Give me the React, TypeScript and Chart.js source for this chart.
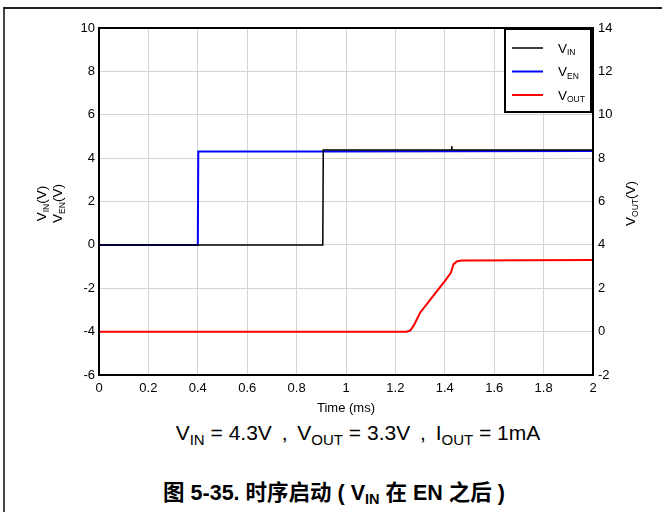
import React, { useEffect, useRef } from "react";
import { Chart, registerables } from "chart.js";

Chart.register(...registerables);

// ---- data (time in ms, voltages in V) ----
const timeVIN = [0, 0.906, 0.908, 1.426, 1.428, 1.43, 2];
const valVIN = [0, 0, 4.37, 4.37, 4.55, 4.37, 4.37];
const timeVEN = [0, 0.4, 0.402, 0.9, 2];
const valVEN = [0, 0, 4.31, 4.31, 4.33];
const timeVOUT = [0, 1.245, 1.26, 1.275, 1.3, 1.35, 1.4, 1.425, 1.435, 1.45, 1.47, 2];
const valVOUT = [0, 0, 0.05, 0.3, 0.87, 1.6, 2.33, 2.72, 3.1, 3.25, 3.28, 3.3];

const xTicks = [0, 0.2, 0.4, 0.6, 0.8, 1, 1.2, 1.4, 1.6, 1.8, 2];
const xTickLabels = ["0", "0.2", "0.4", "0.6", "0.8", "1", "1.2", "1.4", "1.6", "1.8", "2"];
const leftTicks = [-6, -4, -2, 0, 2, 4, 6, 8, 10];
const rightTicks = [-2, 0, 2, 4, 6, 8, 10, 12, 14];

const FONT = '"Liberation Sans", Arial, sans-serif';

type Seg = [string, boolean];

function drawSegs(
  ctx: CanvasRenderingContext2D,
  segs: Seg[],
  x: number,
  y: number,
  size: number,
  subSize: number,
  align: "left" | "center"
) {
  let total = 0;
  const widths: number[] = [];
  for (const [t, sub] of segs) {
    ctx.font = `${sub ? subSize : size}px ${FONT}`;
    const w = ctx.measureText(t).width;
    widths.push(w);
    total += w;
  }
  let cx = align === "center" ? x - total / 2 : x;
  ctx.textAlign = "left";
  ctx.textBaseline = "alphabetic";
  segs.forEach(([t, sub], i) => {
    ctx.font = `${sub ? subSize : size}px ${FONT}`;
    ctx.fillText(t, cx, sub ? y + size * 0.22 : y);
    cx += widths[i];
  });
}

const overlayPlugin = {
  id: "overlay",
  afterDraw(chart: any) {
    const ctx: CanvasRenderingContext2D = chart.ctx;
    const a = chart.chartArea;
    ctx.save();
    // plot frame
    ctx.strokeStyle = "#000";
    ctx.lineWidth = 2;
    ctx.strokeRect(a.left, a.top, a.right - a.left, a.bottom - a.top);

    // legend box
    const lw = 86;
    const lh = 83;
    const lx = a.right - 2 - lw;
    const ly = a.top + 1;
    ctx.fillStyle = "#fff";
    ctx.fillRect(lx, ly, lw, lh);
    ctx.strokeStyle = "#000";
    ctx.lineWidth = 2;
    ctx.strokeRect(lx, ly, lw, lh);
    const items: { color: string; width: number; segs: Seg[] }[] = [
      { color: "#000000", width: 1.5, segs: [["V", false], ["IN", true]] },
      { color: "#0000ff", width: 2, segs: [["V", false], ["EN", true]] },
      { color: "#ff0000", width: 2, segs: [["V", false], ["OUT", true]] },
    ];
    items.forEach((it, i) => {
      const yy = ly + 19 + i * 23.5;
      ctx.strokeStyle = it.color;
      ctx.lineWidth = it.width;
      ctx.beginPath();
      ctx.moveTo(lx + 7, yy);
      ctx.lineTo(lx + 38, yy);
      ctx.stroke();
      ctx.fillStyle = "#000";
      drawSegs(ctx, it.segs, lx + 53, yy + 4.5, 13.5, 8.5, "left");
    });

    // axis titles
    ctx.fillStyle = "#000";
    const midY = (a.top + a.bottom) / 2;
    const rot = (cx: number, segs: Seg[]) => {
      ctx.save();
      ctx.translate(cx, midY + 2);
      ctx.rotate(-Math.PI / 2);
      drawSegs(ctx, segs, 0, 0, 13.5, 8.5, "center");
      ctx.restore();
    };
    rot(46, [["V", false], ["IN", true], ["(V)", false]]);
    rot(62, [["V", false], ["EN", true], ["(V)", false]]);
    rot(635, [["V", false], ["OUT", true], ["(V)", false]]);
    drawSegs(ctx, [["Time (ms)", false]], (a.left + a.right) / 2, 412, 13, 8, "center");
    ctx.restore();
  },
};

export default function App() {
  const ref = useRef<HTMLCanvasElement | null>(null);
  useEffect(() => {
    if (!ref.current) return;
    const mk = (xs: number[], ys: number[]) => xs.map((x, i) => ({ x, y: ys[i] }));
    const chart = new Chart(ref.current, {
      type: "line",
      data: {
        datasets: [
          {
            label: "VIN",
            data: mk(timeVIN, valVIN),
            borderColor: "#000000",
            borderWidth: 1.5,
            pointRadius: 0,
            yAxisID: "y",
          },
          {
            label: "VEN",
            data: mk(timeVEN, valVEN),
            borderColor: "#0000ff",
            borderWidth: 2,
            pointRadius: 0,
            yAxisID: "y",
          },
          {
            label: "VOUT",
            data: mk(timeVOUT, valVOUT),
            borderColor: "#ff0000",
            borderWidth: 2,
            pointRadius: 0,
            yAxisID: "y2",
          },
        ],
      },
      options: {
        animation: false,
        responsive: false,
        layout: { padding: { top: 28, left: 0, right: 0, bottom: 0 } },
        plugins: { legend: { display: false }, tooltip: { enabled: false } },
        scales: {
          x: {
            type: "linear",
            min: 0,
            max: 2,
            afterFit: (s: any) => {
              s.height = 45;
            },
            afterBuildTicks: (s: any) => {
              s.ticks = xTicks.map((v) => ({ value: v }));
            },
            ticks: {
              color: "#000",
              font: { family: FONT, size: 13 },
              padding: 6,
              maxRotation: 0,
              autoSkip: false,
              callback: (_v: any, i: number) => xTickLabels[i],
            },
            grid: { color: "#d4d4d4", lineWidth: 1, drawTicks: false },
            border: { display: false },
          },
          y: {
            type: "linear",
            position: "left",
            min: -6,
            max: 10,
            afterFit: (s: any) => {
              s.width = 99;
            },
            afterBuildTicks: (s: any) => {
              s.ticks = leftTicks.map((v) => ({ value: v }));
            },
            ticks: { color: "#000", font: { family: FONT, size: 13 }, padding: 4 },
            grid: { color: "#d4d4d4", lineWidth: 1, drawTicks: false },
            border: { display: false },
          },
          y2: {
            type: "linear",
            position: "right",
            min: -2,
            max: 14,
            afterFit: (s: any) => {
              s.width = 69;
            },
            afterBuildTicks: (s: any) => {
              s.ticks = rightTicks.map((v) => ({ value: v }));
            },
            ticks: { color: "#000", font: { family: FONT, size: 13 }, padding: 5 },
            grid: { display: false, drawTicks: false },
            border: { display: false },
          },
        },
      },
      plugins: [overlayPlugin],
    } as any);
    return () => chart.destroy();
  }, []);

  const subStyle = { fontSize: 15, verticalAlign: -5 } as const;
  const comma = { margin: "0 4px" } as const;
  return (
    <div
      style={{
        position: "absolute",
        left: 0,
        top: 0,
        width: 662,
        height: 512,
        background: "#fff",
        overflow: "hidden",
        fontFamily: FONT,
      }}
    >
      <div style={{ position: "absolute", left: 3, top: 7, width: 2, height: 505, background: "#444" }} />
      <div style={{ position: "absolute", left: 3, top: 7, width: 659, height: 1.5, background: "#222" }} />
      <canvas
        ref={ref}
        width={662}
        height={420}
        style={{ position: "absolute", left: 0, top: 0, width: 662, height: 420 }}
      />
      <div
        style={{
          position: "absolute",
          left: 358,
          top: 421,
          transform: "translateX(-50%)",
          whiteSpace: "nowrap",
          fontSize: 21,
          lineHeight: "24px",
          color: "#000",
        }}
      >
        V<span style={subStyle}>IN</span> = 4.3V <span style={comma}>,</span> V
        <span style={subStyle}>OUT</span> = 3.3V <span style={comma}>,</span> I
        <span style={subStyle}>OUT</span> = 1mA
      </div>
      <div
        style={{
          position: "absolute",
          left: 334,
          top: 481,
          transform: "translateX(-50%)",
          whiteSpace: "nowrap",
          fontSize: 21.5,
          lineHeight: "24px",
          fontWeight: "bold",
          color: "#000",
          fontFamily: '"Liberation Sans", Arial, "Noto Sans CJK SC", sans-serif',
        }}
      >
        图 5-35. 时序启动 ( V<span style={{ fontSize: 14.5, verticalAlign: -4 }}>IN</span> 在 EN 之后 )
      </div>
    </div>
  );
}
